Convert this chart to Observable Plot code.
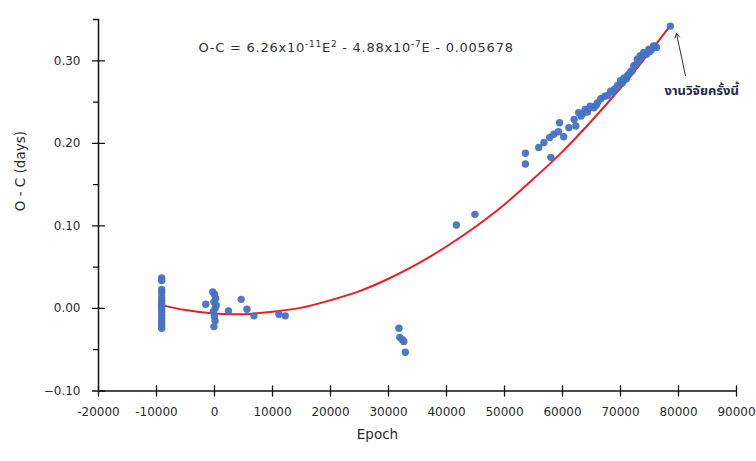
<!DOCTYPE html>
<html>
<head>
<meta charset="utf-8">
<script src="https://cdn.jsdelivr.net/npm/d3@7"></script>
<script src="https://cdn.jsdelivr.net/npm/@observablehq/plot@0.6"></script>
<style>
  html, body { margin: 0; padding: 0; background: #fff; }
  #chart { width: 756px; height: 461px; }
</style>
</head>
<body>
<div id="chart"></div>
<script>
// Observed O-C points (epoch, O-C days)
const epoch = [
  -9100,-9100,-9100,-9100,-9100,-9100,-9100,-9100,-9100,-9100,-9100,-9100,-9100,-9100,-9100,
  -1500,-300,0,200,-100,300,100,-200,0,100,-100,2400,4600,5600,6800,11100,12200,
  31800,31950,32400,32650,32900,
  41700,44900,
  53600,53600,55900,56800,57800,58000,58500,59300,59500,60200,61100,62000,62300,62800,63200,
  63900,64300,64800,65400,66000,66600,67300,68300,69000,70000,70600,71200,71800,72300,72900,
  73400,74000,74500,74900,75300,75700,76200,78600,
  67800,68700,69500,70300,71000,71500,72000,72600,73100,73700,75000,76000,63500,64500,65800
];
const oc = [
  0.037,0.034,0.023,0.019,0.014,0.010,0.006,0.003,0.000,-0.004,-0.008,-0.012,-0.016,-0.020,-0.024,
  0.005,0.020,0.017,0.012,0.008,0.004,0.000,-0.004,-0.010,-0.015,-0.022,-0.003,0.011,-0.001,-0.009,-0.007,-0.009,
  -0.024,-0.035,-0.038,-0.040,-0.053,
  0.101,0.114,
  0.188,0.175,0.195,0.201,0.207,0.183,0.211,0.214,0.225,0.208,0.219,0.229,0.221,0.237,0.233,
  0.241,0.238,0.245,0.243,0.249,0.254,0.257,0.263,0.266,0.276,0.279,0.282,0.287,0.294,0.302,
  0.306,0.310,0.308,0.314,0.313,0.318,0.316,0.342,
  0.258,0.262,0.270,0.273,0.278,0.284,0.288,0.295,0.300,0.305,0.311,0.318,0.236,0.242,0.246
];

// Fitted curve
const fitEpoch = [-9000,-5000,0,5000,10000,15000,20000,25000,30000,35000,40000,45000,50000,55000,60000,65000,70000,75000,78600];
const fitOC    = [0.004,-0.002,-0.006,-0.007,-0.004,0.001,0.010,0.021,0.036,0.054,0.075,0.099,0.126,0.157,0.190,0.227,0.267,0.310,0.343];

// Axis ticks
const xTicks = [-20000,-10000,0,10000,20000,30000,40000,50000,60000,70000,80000,90000];
const yTicks = [-0.10,0.00,0.10,0.20,0.30];
const yMinor = [-0.05,0.05,0.15,0.25,0.35];

// Text (equation pieces: [text, superscript?])
const equationParts = [["O-C = 6.26x10", false], ["-11", true], ["E", false], ["2", true], [" - 4.88x10", false], ["-7", true], ["E - 0.005678", false]];
const equation = equationParts.map(p => p[0]).join("");
const yLabel = "O - C (days)";
const xLabel = "Epoch";
const noteText = "งานวิจัยครั้งนี้";
const noteTip = [79650, 0.333];
const noteTail = [81200, 0.282];
const notePos = [84000, 0.263];

const points = epoch.map((e, i) => ({e, v: oc[i]}));
const fit = fitEpoch.map((e, i) => ({e, v: fitOC[i]}));

const line = {draw(ctx, l) { ctx.moveTo(0, 0); ctx.lineTo(0, -l); }};
const font = "DejaVu Sans, Verdana, sans-serif";

const chart = Plot.plot({
  width: 756,
  height: 461,
  marginLeft: 98,
  marginRight: 20,
  marginTop: 19,
  marginBottom: 70.5,
  style: {fontFamily: font, fontSize: "12px", color: "#2a2a2a", background: "#fff"},
  x: {domain: [-20000, 90000]},
  y: {domain: [-0.1, 0.35]},
  marks: [
    Plot.line(fit, {x: "e", y: "v", stroke: "#ee1c24", strokeWidth: 2, curve: "catmull-rom"}),
    Plot.dot(points, {x: "e", y: "v", r: 3.7, fill: "#4472c4", fillOpacity: 0.95}),
    Plot.ruleY([-0.1], {stroke: "#111", strokeWidth: 1.5}),
    Plot.ruleX([-20000], {stroke: "#111", strokeWidth: 1.5}),
    Plot.vector(xTicks, {x: d => d, y: -0.1, length: 10, anchor: "middle", shape: line, stroke: "#111", strokeWidth: 1.3}),
    Plot.vector(yTicks, {x: -20000, y: d => d, length: 12, rotate: 90, anchor: "middle", shape: line, stroke: "#111", strokeWidth: 1.3}),
    Plot.vector(yMinor, {x: -20000, y: d => d, length: 5, rotate: -90, anchor: "start", shape: line, stroke: "#111", strokeWidth: 1.3}),
    Plot.axisX({ticks: xTicks, tickSize: 0, tickPadding: 16, tickFormat: d => String(d), label: null, fontSize: 12}),
    Plot.axisY({ticks: yTicks, tickSize: 0, tickPadding: 18, tickFormat: d3.format(".2f"), label: null, fontSize: 12}),
    Plot.text([yLabel], {frameAnchor: "left", dx: -78, dy: 6, rotate: -90, fontSize: 13.5, fill: "#2a2a2a"}),
    Plot.text([xLabel], {frameAnchor: "bottom", dx: -40, dy: 48, fontSize: 13.5, fill: "#2a2a2a"}),
    Plot.text([equation], {frameAnchor: "top-left", dx: 100, dy: 23, textAnchor: "start", fontSize: 13, fill: "#333", className: "equation"}),
    Plot.arrow([0], {x1: () => noteTail[0], y1: () => noteTail[1], x2: () => noteTip[0], y2: () => noteTip[1], stroke: "#333", strokeWidth: 1, headLength: 7, clip: false}),
    Plot.text([noteText], {x: () => notePos[0], y: () => notePos[1], fontSize: 13, fontWeight: "bold", fill: "#1f2a4a", fontFamily: "'Noto Sans Thai', 'Noto Sans', 'DejaVu Sans', sans-serif"})
  ]
});

// Rebuild the equation text with real superscripts
const eqText = chart.querySelector(".equation text");
if (eqText) {
  eqText.textContent = "";
  eqText.setAttribute("letter-spacing", "0.75");
  let raised = false;
  for (const [str, sup] of equationParts) {
    const ts = document.createElementNS("http://www.w3.org/2000/svg", "tspan");
    ts.textContent = str;
    if (sup) {
      ts.setAttribute("font-size", "9");
      if (!raised) { ts.setAttribute("dy", "-5"); raised = true; }
    } else if (raised) {
      ts.setAttribute("dy", "5"); raised = false;
    }
    eqText.appendChild(ts);
  }
}
document.getElementById("chart").appendChild(chart);
</script>
</body>
</html>
